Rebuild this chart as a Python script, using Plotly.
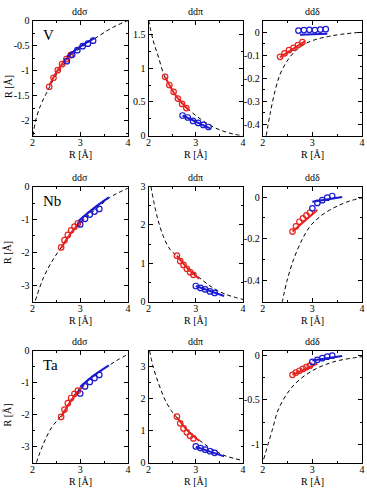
import plotly.graph_objects as go

# ---------------- data ----------------
X_TICKS = [2, 3, 4]
X_TICKTEXT = ["2", "3", "4"]
PANEL_TITLES = ["ddσ", "ddπ", "ddδ"]
ELEMENTS = ["V", "Nb", "Ta"]

# bond lengths of the reference points
R_RED_V = [2.35, 2.44, 2.53, 2.62, 2.71, 2.80]
R_BLUE_V = [2.72, 2.83, 2.94, 3.05, 3.16, 3.27]
R_RED_NB = [2.60, 2.67, 2.74, 2.81, 2.88, 2.95]
R_BLUE_NB = [3.0, 3.1, 3.2, 3.3, 3.4]
R_RED_TA = [2.60, 2.67, 2.74, 2.81, 2.88, 2.95]
R_BLUE_TA = [3.0, 3.1, 3.2, 3.3, 3.4]

# ---- V ----
V_SIG_DASH_R = [2.01, 2.07, 2.17, 2.28, 2.36, 2.5, 2.65, 2.8, 3.0, 3.2, 3.4, 3.6, 3.8, 4.0]
V_SIG_DASH = [-2.3, -1.98, -1.69, -1.47, -1.32, -1.08, -0.88, -0.72, -0.55, -0.42, -0.30, -0.18, -0.08, 0.0]
V_SIG_RED = [-1.32, -1.14, -0.99, -0.87, -0.77, -0.69]
V_SIG_REDLINE_R = [2.35, 2.5, 2.65, 2.85]
V_SIG_REDLINE = [-1.30, -1.03, -0.83, -0.63]
V_SIG_BLUE = [-0.81, -0.68, -0.59, -0.51, -0.46, -0.40]
V_SIG_BLUELINE_R = [2.72, 3.0, 3.3]
V_SIG_BLUELINE = [-0.72, -0.52, -0.35]

V_PI_DASH_R = [2.0, 2.1, 2.21, 2.33, 2.45, 2.6, 2.8, 3.0, 3.2, 3.4, 3.6, 3.8, 4.0]
V_PI_DASH = [1.71, 1.40, 1.16, 0.89, 0.73, 0.57, 0.42, 0.30, 0.20, 0.12, 0.065, 0.025, 0.0]
V_PI_RED = [0.87, 0.75, 0.65, 0.55, 0.47, 0.41]
V_PI_REDLINE_R = [2.35, 2.6, 2.85]
V_PI_REDLINE = [0.87, 0.57, 0.38]
V_PI_BLUE = [0.30, 0.27, 0.22, 0.19, 0.16, 0.13]
V_PI_BLUELINE_R = [2.72, 3.3]
V_PI_BLUELINE = [0.30, 0.11]

V_DEL_DASH_R = [2.07, 2.15, 2.25, 2.35, 2.49, 2.65, 2.85, 3.05, 3.32, 3.59, 4.0]
V_DEL_DASH = [-0.45, -0.354, -0.254, -0.183, -0.126, -0.083, -0.051, -0.033, -0.019, -0.009, 0.0]
V_DEL_RED = [-0.107, -0.092, -0.078, -0.068, -0.056, -0.043]
V_DEL_REDLINE_R = [2.35, 2.85]
V_DEL_REDLINE = [-0.108, -0.040]
V_DEL_BLUE = [0.007, 0.009, 0.010, 0.009, 0.011, 0.013]
V_DEL_BLUELINE_R = [2.75, 3.3]
V_DEL_BLUELINE = [-0.011, -0.007]

# ---- Nb ----
NB_SIG_DASH_R = [2.06, 2.23, 2.41, 2.6, 2.8, 3.0, 3.2, 3.4, 3.62, 3.81, 4.0]
NB_SIG_DASH = [-3.46, -2.77, -2.27, -1.85, -1.43, -1.1, -0.84, -0.6, -0.33, -0.18, -0.05]
NB_SIG_RED = [-1.85, -1.63, -1.47, -1.33, -1.22, -1.12]
NB_SIG_REDLINE_R = [2.6, 2.84, 3.08]
NB_SIG_REDLINE = [-1.87, -1.35, -0.98]
NB_SIG_BLUE = [-1.15, -0.98, -0.85, -0.76, -0.68]
NB_SIG_BLUELINE_R = [2.97, 3.3, 3.6]
NB_SIG_BLUELINE = [-1.04, -0.64, -0.33]

NB_PI_DASH_R = [2.05, 2.17, 2.31, 2.45, 2.57, 2.8, 3.07, 3.34, 3.62, 4.0]
NB_PI_DASH = [3.0, 2.27, 1.71, 1.37, 1.22, 0.92, 0.63, 0.38, 0.20, 0.06]
NB_PI_RED = [1.20, 1.06, 0.96, 0.86, 0.77, 0.70]
NB_PI_REDLINE_R = [2.6, 2.84, 3.07]
NB_PI_REDLINE = [1.20, 0.85, 0.60]
NB_PI_BLUE = [0.41, 0.36, 0.32, 0.27, 0.23]
NB_PI_BLUELINE_R = [3.0, 3.6]
NB_PI_BLUELINE = [0.41, 0.15]

NB_DEL_DASH_R = [2.39, 2.49, 2.62, 2.79, 2.95, 3.15, 3.35, 3.55, 3.75, 4.0]
NB_DEL_DASH = [-0.506, -0.40, -0.30, -0.205, -0.141, -0.094, -0.062, -0.038, -0.019, -0.004]
NB_DEL_RED = [-0.165, -0.140, -0.118, -0.102, -0.088, -0.075]
NB_DEL_REDLINE_R = [2.6, 3.1]
NB_DEL_REDLINE = [-0.165, -0.062]
NB_DEL_BLUE = [-0.054, -0.028, -0.015, -0.003, 0.005]
NB_DEL_BLUELINE_R = [3.0, 3.6]
NB_DEL_BLUELINE = [-0.022, 0.0]

# ---- Ta ----
TA_SIG_DASH_R = [2.08, 2.23, 2.4, 2.59, 2.8, 3.0, 3.2, 3.4, 3.61, 3.81, 4.0]
TA_SIG_DASH = [-3.5, -2.9, -2.4, -2.05, -1.55, -1.15, -0.9, -0.68, -0.46, -0.27, -0.12]
TA_SIG_RED = [-2.07, -1.84, -1.64, -1.48, -1.35, -1.25]
TA_SIG_REDLINE_R = [2.6, 2.84, 3.08]
TA_SIG_REDLINE = [-2.07, -1.50, -1.08]
TA_SIG_BLUE = [-1.34, -1.12, -0.98, -0.86, -0.76]
TA_SIG_BLUELINE_R = [3.0, 3.3, 3.6]
TA_SIG_BLUELINE = [-1.13, -0.76, -0.46]

TA_PI_DASH_R = [2.02, 2.1, 2.21, 2.34, 2.48, 2.57, 2.8, 3.07, 3.34, 3.62, 4.0]
TA_PI_DASH = [3.5, 2.98, 2.48, 1.99, 1.63, 1.46, 1.07, 0.71, 0.43, 0.22, 0.07]
TA_PI_RED = [1.44, 1.23, 1.07, 0.95, 0.84, 0.76]
TA_PI_REDLINE_R = [2.6, 2.84, 3.08]
TA_PI_REDLINE = [1.42, 0.98, 0.68]
TA_PI_BLUE = [0.51, 0.46, 0.41, 0.36, 0.31]
TA_PI_BLUELINE_R = [3.0, 3.6]
TA_PI_BLUELINE = [0.50, 0.20]

TA_DEL_DASH_R = [2.02, 2.19, 2.32, 2.53, 2.73, 3.0, 3.27, 3.54, 4.0]
TA_DEL_DASH = [-1.16, -0.84, -0.6, -0.40, -0.28, -0.175, -0.105, -0.06, -0.018]
TA_DEL_RED = [-0.22, -0.195, -0.175, -0.155, -0.135, -0.118]
TA_DEL_REDLINE_R = [2.6, 3.1]
TA_DEL_REDLINE = [-0.22, -0.095]
TA_DEL_BLUE = [-0.077, -0.053, -0.035, -0.018, -0.007]
TA_DEL_BLUELINE_R = [3.0, 3.6]
TA_DEL_BLUELINE = [-0.06, -0.01]

# y-axis ranges and tick labels
Y_RANGES = [[-2.3, 0], [0, 1.7], [-0.45, 0.05],
            [-3.5, 0], [0, 3], [-0.5, 0.05],
            [-3.5, 0], [0, 3.5], [-1.2, 0.05]]
Y_TICKS = [[0, -0.5, -1, -1.5, -2], [0, 0.5, 1, 1.5], [0, -0.1, -0.2, -0.3, -0.4],
           [0, -1, -2, -3], [0, 1, 2, 3], [0, -0.2, -0.4],
           [0, -1, -2, -3], [0, 1, 2, 3], [0, -0.5, -1]]
Y_TICKTEXT = [["0", "-0.5", "-1", "-1.5", "-2"], ["0", "0.5", "1", "1.5"], ["0", "-0.1", "-0.2", "-0.3", "-0.4"],
              ["0", "-1", "-2", "-3"], ["0", "1", "2", "3"], ["0", "-0.2", "-0.4"],
              ["0", "-1", "-2", "-3"], ["0", "1", "2", "3"], ["0", "-0.5", "-1"]]
Y_MINOR = [0.25, 0.25, 0.05, 0.5, 0.5, 0.1, 0.5, 0.5, 0.25]

# ---------------- build table of panels ----------------
panels = [
    (V_SIG_DASH_R, V_SIG_DASH, R_RED_V, V_SIG_RED, V_SIG_REDLINE_R, V_SIG_REDLINE, R_BLUE_V, V_SIG_BLUE, V_SIG_BLUELINE_R, V_SIG_BLUELINE),
    (V_PI_DASH_R, V_PI_DASH, R_RED_V, V_PI_RED, V_PI_REDLINE_R, V_PI_REDLINE, R_BLUE_V, V_PI_BLUE, V_PI_BLUELINE_R, V_PI_BLUELINE),
    (V_DEL_DASH_R, V_DEL_DASH, R_RED_V, V_DEL_RED, V_DEL_REDLINE_R, V_DEL_REDLINE, R_BLUE_V, V_DEL_BLUE, V_DEL_BLUELINE_R, V_DEL_BLUELINE),
    (NB_SIG_DASH_R, NB_SIG_DASH, R_RED_NB, NB_SIG_RED, NB_SIG_REDLINE_R, NB_SIG_REDLINE, R_BLUE_NB, NB_SIG_BLUE, NB_SIG_BLUELINE_R, NB_SIG_BLUELINE),
    (NB_PI_DASH_R, NB_PI_DASH, R_RED_NB, NB_PI_RED, NB_PI_REDLINE_R, NB_PI_REDLINE, R_BLUE_NB, NB_PI_BLUE, NB_PI_BLUELINE_R, NB_PI_BLUELINE),
    (NB_DEL_DASH_R, NB_DEL_DASH, R_RED_NB, NB_DEL_RED, NB_DEL_REDLINE_R, NB_DEL_REDLINE, R_BLUE_NB, NB_DEL_BLUE, NB_DEL_BLUELINE_R, NB_DEL_BLUELINE),
    (TA_SIG_DASH_R, TA_SIG_DASH, R_RED_TA, TA_SIG_RED, TA_SIG_REDLINE_R, TA_SIG_REDLINE, R_BLUE_TA, TA_SIG_BLUE, TA_SIG_BLUELINE_R, TA_SIG_BLUELINE),
    (TA_PI_DASH_R, TA_PI_DASH, R_RED_TA, TA_PI_RED, TA_PI_REDLINE_R, TA_PI_REDLINE, R_BLUE_TA, TA_PI_BLUE, TA_PI_BLUELINE_R, TA_PI_BLUELINE),
    (TA_DEL_DASH_R, TA_DEL_DASH, R_RED_TA, TA_DEL_RED, TA_DEL_REDLINE_R, TA_DEL_REDLINE, R_BLUE_TA, TA_DEL_BLUE, TA_DEL_BLUELINE_R, TA_DEL_BLUELINE),
]

W, H = 367, 501
COL_PX = [(30, 127), (148, 244), (264, 365)]
ROW_PX = [(15, 133), (185, 303), (353, 468)]
FONT = "Liberation Serif"
RED = "#e8231f"
BLUE = "#1a1ad0"

fig = go.Figure()
layout = dict(width=W, height=H, margin=dict(l=0, r=0, t=0, b=0),
              paper_bgcolor="white", plot_bgcolor="white", showlegend=False,
              font=dict(family=FONT, size=10, color="black"))
annotations = []

for i, p in enumerate(panels):
    r, c = divmod(i, 3)
    sfx = "" if i == 0 else str(i + 1)
    xa, ya = "x" + sfx, "y" + sfx
    dr, dv, rr, rv, rlr, rlv, br, bv, blr, blv = p
    fig.add_trace(go.Scatter(x=dr, y=dv, mode="lines", xaxis=xa, yaxis=ya,
                             line=dict(color="black", width=1, dash="4px,3px", shape="spline")))
    fig.add_trace(go.Scatter(x=rlr, y=rlv, mode="lines", xaxis=xa, yaxis=ya,
                             line=dict(color=RED, width=2, shape="spline")))
    fig.add_trace(go.Scatter(x=rr, y=rv, mode="markers", xaxis=xa, yaxis=ya,
                             marker=dict(symbol="circle-open", size=5.5, color=RED, line=dict(width=1.2, color=RED))))
    fig.add_trace(go.Scatter(x=blr, y=blv, mode="lines", xaxis=xa, yaxis=ya,
                             line=dict(color=BLUE, width=2, shape="spline")))
    fig.add_trace(go.Scatter(x=br, y=bv, mode="markers", xaxis=xa, yaxis=ya,
                             marker=dict(symbol="circle-open", size=5.5, color=BLUE, line=dict(width=1.2, color=BLUE))))

    x0, x1 = COL_PX[c]
    y0, y1 = ROW_PX[r]
    common = dict(showline=True, linecolor="black", linewidth=1, mirror="ticks",
                  ticks="inside", ticklen=4, tickcolor="black", tickwidth=1,
                  showgrid=False, zeroline=False, tickfont=dict(family=FONT, size=10, color="black"))
    layout["xaxis" + sfx] = dict(domain=[x0 / W, x1 / W], range=[2, 4], anchor=ya,
                                 tickmode="array", tickvals=X_TICKS, ticktext=X_TICKTEXT,
                                 ticklabelstandoff=-3,
                                 minor=dict(tickmode="linear", tick0=2, dtick=0.5, ticks="inside",
                                            ticklen=2, tickcolor="black"),
                                 **common)
    layout["yaxis" + sfx] = dict(domain=[1 - y1 / H, 1 - y0 / H], range=Y_RANGES[i], anchor=xa,
                                 tickmode="array", tickvals=Y_TICKS[i], ticktext=Y_TICKTEXT[i],
                                 minor=dict(tickmode="linear", tick0=0, dtick=Y_MINOR[i], ticks="inside",
                                            ticklen=2, tickcolor="black"),
                                 **common)
    # panel title
    annotations.append(dict(text=PANEL_TITLES[c], xref="paper", yref="paper",
                            x=(x0 + x1) / 2 / W, y=1 - (y0 - 9) / H, xanchor="center", yanchor="middle",
                            showarrow=False, font=dict(family=FONT, size=10)))
    # x-axis title
    annotations.append(dict(text="R [Å]", xref="paper", yref="paper",
                            x=(x0 + x1) / 2 / W, y=1 - (y1 + 19) / H, xanchor="center", yanchor="middle",
                            showarrow=False, font=dict(family=FONT, size=10)))
    if c == 0:
        annotations.append(dict(text="R [Å]", xref="paper", yref="paper", textangle=-90,
                                x=5 / W, y=1 - ((y0 + y1) / 2 + 8) / H, xanchor="center", yanchor="middle",
                                showarrow=False, font=dict(family=FONT, size=10)))
        annotations.append(dict(text=ELEMENTS[r], xref="paper", yref="paper",
                                x=(x0 + 9) / W, y=1 - (y0 + 15) / H, xanchor="left", yanchor="middle",
                                showarrow=False, font=dict(family=FONT, size=15)))

layout["annotations"] = annotations
fig.update_layout(**layout)
fig.write_html("out.html")
